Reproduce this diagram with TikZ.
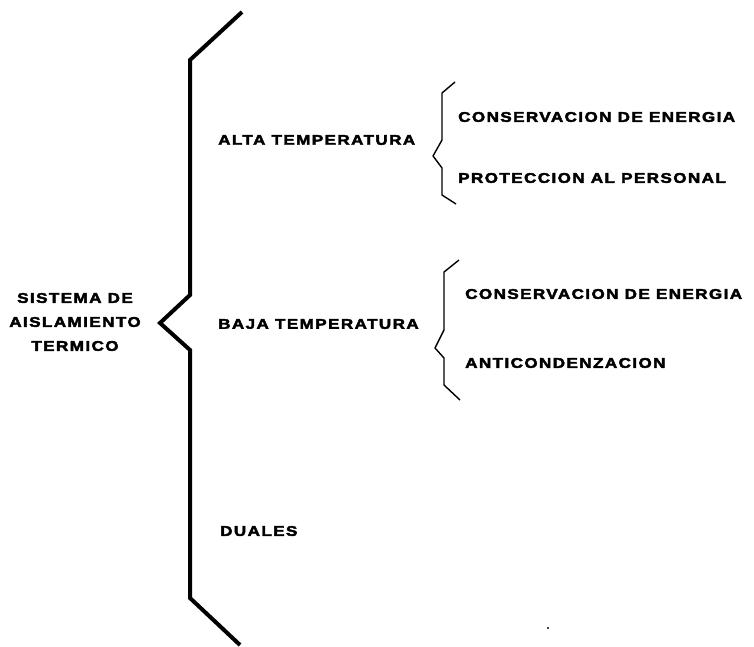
\documentclass[tikz,border=0pt]{standalone}
\usepackage{fontspec}
\setmainfont{Liberation Sans}[FakeStretch=1.22,LetterSpace=10,BoldFeatures={FakeBold=3}]
\begin{document}
\begin{tikzpicture}[x=1pt,y=-1pt,
  lbl/.style={font=\fontsize{14}{24}\bfseries\selectfont, inner sep=0pt, anchor=west},
  bigbrace/.style={line width=4pt, line join=miter},
  smallbrace/.style={line width=1.4pt, line join=round}]
\useasboundingbox (0,0) rectangle (754,647);
% big brace
\draw[bigbrace] (242,12) -- (190,60) -- (190,295) -- (160,323) -- (190,350) -- (190,598) -- (240,645);
% small braces
\draw[smallbrace] (455,82) -- (442,93) -- (442,140) -- (433,156) -- (442,168) -- (442,195) -- (456,204);
\draw[smallbrace] (459,260) -- (444,272) -- (444,330) -- (435,348) -- (444,358) -- (444,385) -- (460,400);
% texts
\node[lbl, anchor=center, align=center] (sis) at (75,322) {SISTEMA DE\\AISLAMIENTO\\TERMICO};
\node[lbl] (alta) at (218,140) {ALTA TEMPERATURA};
\node[lbl] (c1) at (458,117) {CONSERVACION DE ENERGIA};
\node[lbl] (prot) at (458,178) {PROTECCION AL PERSONAL};
\node[lbl] (baja) at (218,324) {BAJA TEMPERATURA};
\node[lbl] (c2) at (465,294) {CONSERVACION DE ENERGIA};
\node[lbl] (anti) at (465,363) {ANTICONDENZACION};
\node[lbl] (dual) at (220,531) {DUALES};
\fill (548,628) circle (1.2pt);
\end{tikzpicture}
\end{document}
